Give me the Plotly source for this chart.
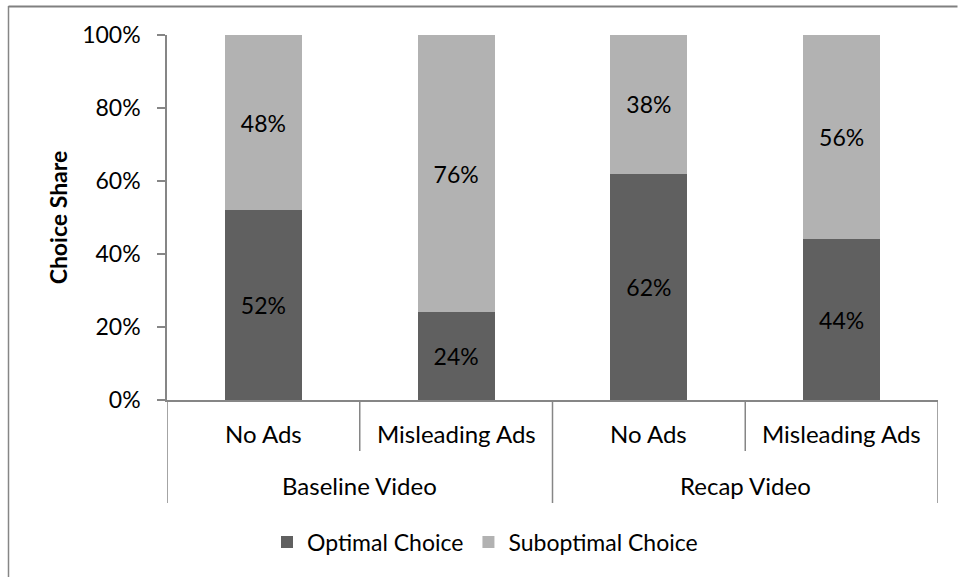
import plotly.graph_objects as go

# ---- data ----
sub_labels = ["No Ads", "Misleading Ads", "No Ads", "Misleading Ads"]
group_labels = ["Baseline Video", "Recap Video"]
group_members = [[0, 1], [2, 3]]
optimal = [52, 24, 62, 44]
suboptimal = [48, 76, 38, 56]
series_names = ["Optimal Choice", "Suboptimal Choice"]
y_ticks = [0, 20, 40, 60, 80, 100]
y_title = "Choice Share"

# ---- style ----
FONT = "Lato, 'Open Sans', sans-serif"
DARK = "#606060"
LIGHT = "#b2b2b2"
AXIS = "#868686"
FS = 23
FS_CAT = 24

W, H = 958, 577
L, R, T, B = 167, 938, 35, 400  # plot area in pixels

xs = list(range(len(sub_labels)))

fig = go.Figure()
for name, vals, col in [(series_names[0], optimal, DARK), (series_names[1], suboptimal, LIGHT)]:
    fig.add_trace(go.Bar(
        x=xs, y=vals, name=name, marker=dict(color=col, line=dict(width=0)),
        width=0.4,
        text=[f"{v}%" for v in vals], textposition="inside",
        insidetextanchor="middle", textangle=0,
        textfont=dict(family=FONT, size=FS, color="black"),
        hoverinfo="skip",
    ))

def py2paper(py):
    return (B - py) / (B - T)

def px2paper(px):
    return (px - L) / (R - L)

shapes = []
n = len(sub_labels)
bounds = [i - 0.5 for i in range(n + 1)]
group_bounds = set()
for g in group_members:
    group_bounds.add(g[0] - 0.5)
    group_bounds.add(g[-1] + 0.5)
for b in bounds:
    y_end = 503 if b in group_bounds else 451
    shapes.append(dict(type="line", xref="x", yref="paper", x0=b, x1=b,
                       y0=py2paper(B), y1=py2paper(y_end),
                       line=dict(color=AXIS, width=1.5)))
# outer chart border (left + top visible)
shapes.append(dict(type="line", xref="paper", yref="paper",
                   x0=px2paper(8.5), x1=px2paper(8.5), y0=py2paper(6), y1=py2paper(H + 5),
                   line=dict(color=AXIS, width=1.5)))
shapes.append(dict(type="line", xref="paper", yref="paper",
                   x0=px2paper(8.5), x1=px2paper(W - 0.5), y0=py2paper(6.5), y1=py2paper(6.5),
                   line=dict(color="#808080", width=2)))

annotations = []
for i, lab in enumerate(sub_labels):
    annotations.append(dict(x=i, y=py2paper(433), xref="x", yref="paper", text=lab,
                            showarrow=False, font=dict(family=FONT, size=FS_CAT, color="black"),
                            xanchor="center", yanchor="middle"))
for g, lab in zip(group_members, group_labels):
    annotations.append(dict(x=sum(g) / len(g), y=py2paper(486), xref="x", yref="paper", text=lab,
                            showarrow=False, font=dict(family=FONT, size=FS_CAT, color="black"),
                            xanchor="center", yanchor="middle"))

fig.update_layout(
    width=W, height=H,
    margin=dict(l=L, r=W - R, t=T, b=H - B, pad=0),
    barmode="stack",
    paper_bgcolor="white", plot_bgcolor="white",
    font=dict(family=FONT, size=FS, color="black"),
    showlegend=True,
    legend=dict(orientation="h", x=px2paper(485), xanchor="center",
                y=py2paper(542), yanchor="middle",
                font=dict(family=FONT, size=FS, color="black"),
                traceorder="normal", itemwidth=30),
    xaxis=dict(range=[-0.5, n - 0.5], tickvals=xs, showticklabels=False, ticks="",
               showline=True, linecolor=AXIS, linewidth=1.5, showgrid=False, zeroline=False,
               fixedrange=True),
    yaxis=dict(range=[0, 100], tickvals=y_ticks, ticktext=[f"{v}%" for v in y_ticks],
               ticks="outside", ticklen=8, tickcolor=AXIS, tickwidth=1.5,
               ticklabelstandoff=12,
               showline=True, linecolor=AXIS, linewidth=1.5, showgrid=False, zeroline=False,
               tickfont=dict(family=FONT, size=FS, color="black"),
               title=dict(text=f"<b>{y_title}</b>", font=dict(family=FONT, size=FS, color="black"),
                          standoff=8)),
    shapes=shapes,
    annotations=annotations,
)

fig.write_html("out.html", config={"displayModeBar": False})
